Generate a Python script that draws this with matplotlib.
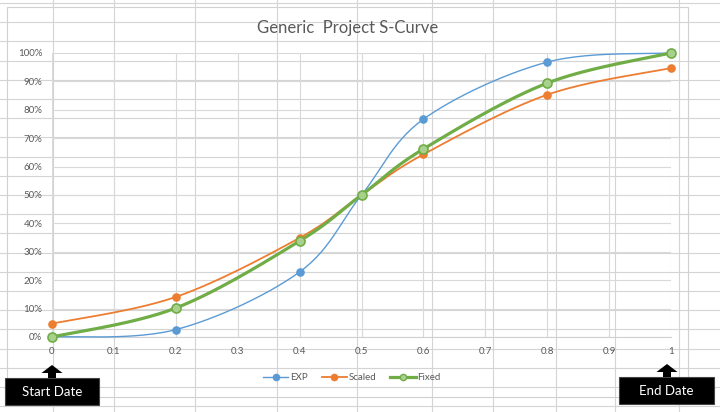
"""Generic project S-curve, drawn like an Excel chart sitting on a worksheet."""

import matplotlib.pyplot as plt
import numpy as np
from matplotlib.patches import Polygon, Rectangle

# data
progress = [0, 0.2, 0.4, 0.5, 0.6, 0.8, 1.0]
exp_pct = [0.0, 0.026, 0.229, 0.50, 0.767, 0.968, 1.0]
scaled_pct = [0.047, 0.141, 0.349, 0.50, 0.643, 0.853, 0.947]
fixed_pct = [0.0, 0.102, 0.338, 0.50, 0.662, 0.894, 1.0]

x_ticks = [0, 0.1, 0.2, 0.3, 0.4, 0.5, 0.6, 0.7, 0.8, 0.9, 1]
x_tick_labels = ["0", "0.1", "0.2", "0.3", "0.4", "0.5", "0.6", "0.7", "0.8", "0.9", "1"]
y_ticks = [i / 10 for i in range(11)]
y_tick_labels = [f"{i * 10}%" for i in range(11)]

W, H = 720, 412
GREY = "#595959"
FONT = "Lato"


def smooth(xs, ys, n=30):
    """Excel-style smoothed line (Catmull-Rom as cubic Bezier)."""
    p = np.column_stack([xs, ys]).astype(float)
    p = np.vstack([p[0], p, p[-1]])
    out = []
    t = np.linspace(0, 1, n)[:, None]
    for i in range(1, len(p) - 2):
        p0, p1, p2, p3 = p[i - 1], p[i], p[i + 1], p[i + 2]
        c1 = p1 + (p2 - p0) / 6
        c2 = p2 - (p3 - p1) / 6
        seg = ((1 - t) ** 3) * p1 + 3 * ((1 - t) ** 2) * t * c1 + 3 * (1 - t) * t**2 * c2 + t**3 * p2
        out.append(seg if i == 1 else seg[1:])
    seg = np.vstack(out)
    return seg[:, 0], seg[:, 1]


fig = plt.figure(figsize=(W / 100, H / 100), dpi=100)

# worksheet behind the chart, pixel coordinates
bg = fig.add_axes([0, 0, 1, 1], zorder=0)
bg.set_xlim(0, W)
bg.set_ylim(H, 0)
bg.axis("off")
for cx in [53, 114, 195, 277, 357, 432, 493, 556, 615, 679]:
    bg.axvline(cx, color="#d4d4d4", lw=0.8)
for ry in np.arange(3, H, 19.2):
    bg.axhline(ry, color="#d4d4d4", lw=0.8)
bg.add_patch(Rectangle((7, 7), 681, 390, facecolor="white", edgecolor="#d0d0d0", lw=0.8))

# plot area
ax = fig.add_axes([52 / W, (H - 337) / H, 619 / W, 284 / H], zorder=1)
ax.patch.set_alpha(0)
series = [
    ("EXP", exp_pct, "#5B9BD5", 1.0, "#5B9BD5", 5),
    ("Scaled", scaled_pct, "#ED7D31", 1.3, "#ED7D31", 5),
    ("Fixed", fixed_pct, "#70AD47", 2.3, "#A9D18E", 6.5),
]
for name, vals, color, lw, face, ms in series:
    sx, sy = smooth(progress, vals)
    ax.plot(sx, sy, color=color, lw=lw, zorder=3, clip_on=False)
    ax.plot(progress, vals, ls="none", marker="o", ms=ms,
            mfc=face, mec=color, mew=1.2, zorder=4, clip_on=False)
    # legend proxy
    ax.plot([], [], color=color, lw=lw, marker="o", ms=4.5, mfc=face, mec=color, label=name)

ax.set_xlim(0, 1)
ax.set_ylim(0, 1)
ax.set_xticks(x_ticks, x_tick_labels)
ax.set_yticks(y_ticks, y_tick_labels)
ax.grid(True, color="#d9d9d9", lw=0.8)
ax.set_axisbelow(True)
for side in ["top", "right", "left"]:
    ax.spines[side].set_visible(False)
ax.spines["bottom"].set_color("#d0d0d0")
ax.tick_params(length=0, colors=GREY, labelsize=7, pad=7)
for lab in ax.get_xticklabels() + ax.get_yticklabels():
    lab.set_fontfamily(FONT)

fig.text(348 / W, 1 - 28 / H, "Generic  Project S-Curve", ha="center", va="center",
         fontsize=12, color=GREY, family=FONT)

leg = ax.legend(loc="center", bbox_to_anchor=(352 / W, 1 - 378 / H), bbox_transform=fig.transFigure,
                ncol=3, frameon=False, handlelength=2.6, handletextpad=0.2,
                columnspacing=1.4, prop={"family": FONT, "size": 7})
for t in leg.get_texts():
    t.set_color(GREY)

# start / end callouts
fg = fig.add_axes([0, 0, 1, 1], zorder=2)
fg.set_xlim(0, W)
fg.set_ylim(H, 0)
fg.axis("off")


def callout(x0, y0, w, h, tip_x, tip_y, label):
    fg.add_patch(Rectangle((x0, y0), w, h, facecolor="black", edgecolor="#444444", lw=0.8))
    fg.text(x0 + w / 2, y0 + h / 2 + 0.5, label, ha="center", va="center",
            color="white", fontsize=9.5, family=FONT)
    hw, sw, hh = 10.5, 4, 8
    pts = [(tip_x, tip_y), (tip_x + hw, tip_y + hh), (tip_x + sw, tip_y + hh), (tip_x + sw, y0),
           (tip_x - sw, y0), (tip_x - sw, tip_y + hh), (tip_x - hw, tip_y + hh)]
    fg.add_patch(Polygon(pts, closed=True, facecolor="black", edgecolor="none"))


callout(5, 378, 94, 27, 52, 365, "Start Date")
callout(619, 377, 95, 27, 667, 364, "End Date")

fig.savefig("out.png", dpi=100)
